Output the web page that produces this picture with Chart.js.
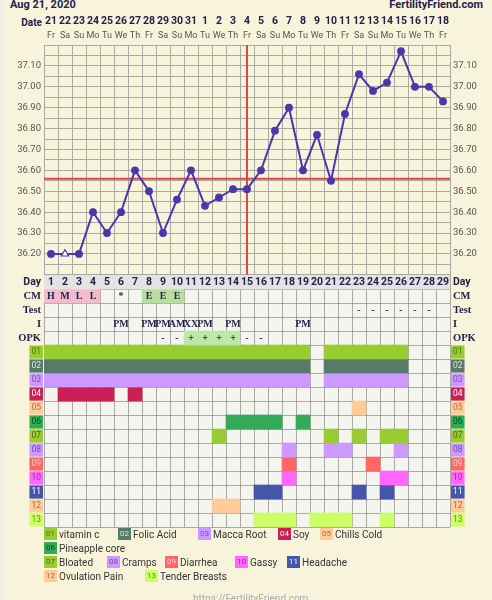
<!DOCTYPE html>
<html><head><meta charset="utf-8">
<script src="https://cdn.jsdelivr.net/npm/chart.js@4.4.1/dist/chart.umd.min.js"></script>
<style>
html,body{margin:0;padding:0;background:#f8f4dc;width:492px;height:600px;overflow:hidden;font-family:Roboto,"Noto Sans",sans-serif;}
#wrap{position:relative;width:492px;height:600px;}
#strip{position:absolute;left:0;top:0;width:5px;height:600px;background:#efefe8;}
.abs{position:absolute;white-space:nowrap;}
#c1{position:absolute;left:0;top:0;}
#c2{position:absolute;left:0;top:274px;}
.lgi{position:absolute;height:14px;display:flex;align-items:center;white-space:nowrap;font-size:10px;color:#333;}
.lgb{display:inline-block;width:13px;height:12px;font-size:8px;line-height:12px;text-align:center;margin-right:2px;}
</style></head>
<body><div id="wrap">
<div id="strip"></div>
<div class="abs" style="left:10px;top:-2px;font-weight:bold;font-size:11px;color:#23234a;">Aug 21, 2020</div>
<div class="abs" style="right:9px;top:-2px;font-weight:bold;font-size:11px;color:#23234a;">FertilityFriend.com</div>
<div class="abs" style="right:450px;top:17px;font-weight:bold;font-size:10px;color:#23234a;">Date</div>
<canvas id="c1" width="492" height="280"></canvas>
<canvas id="c2" width="492" height="255"></canvas>
<div id="legend"></div>
<div class="abs" style="left:193px;top:593px;font-size:10px;color:#aaa;">https://FertilityFriend.com</div>
</div>
<script>
// ---------- DATA ----------
const cycleDays = [1,2,3,4,5,6,7,8,9,10,11,12,13,14,15,16,17,18,19,20,21,22,23,24,25,26,27,28,29];
const dates = ['21','22','23','24','25','26','27','28','29','30','31','1','2','3','4','5','6','7','8','9','10','11','12','13','14','15','16','17','18'];
const weekdays = ['Fr','Sa','Su','Mo','Tu','We','Th','Fr','Sa','Su','Mo','Tu','We','Th','Fr','Sa','Su','Mo','Tu','We','Th','Fr','Sa','Su','Mo','Tu','We','Th','Fr'];
const temps = [36.20,36.20,36.20,36.40,36.30,36.40,36.60,36.50,36.30,36.46,36.60,36.43,36.47,36.51,36.51,36.60,36.79,36.90,36.60,36.77,36.55,36.87,37.06,36.98,37.02,37.17,37.00,37.00,36.93];
const openPointDays = [2];
const coverline = 36.56;
const ovulationDay = 15;
const tempMin = 36.10, tempMax = 37.20;
const tempGridValues = [36.10,36.15,36.20,36.25,36.30,36.35,36.40,36.45,36.50,36.55,36.60,36.65,36.70,36.75,36.80,36.85,36.90,36.95,37.00,37.05,37.10,37.15,37.20];
const tempTickLabels = ['36.20','36.30','36.40','36.50','36.60','36.70','36.80','36.90','37.00','37.10'];

const rowLabels = ['Day','CM','Test','I','OPK','01','02','03','04','05','06','07','08','09','10','11','12','13'];
const cmMarks   = ['H','M','L','L','','*','','E','E','E','','','','','','','','','','','','','','','','','','',''];
const testMarks = ['','','','','','','','','','','','','','','','','','','','','','','-','-','-','-','-','-',''];
const iMarks    = ['','','','','','PM','','PM','PM','AM','XX','PM','','PM','','','','','PM','','','','','','','','','',''];
const opkMarks  = ['','','','','','','','','-','-','+','+','+','+','-','-','','','','','','','','','','','','',''];

const symptomCodes = ['01','02','03','04','05','06','07','08','09','10','11','12','13'];
const symptomNames = ['vitamin c','Folic Acid','Macca Root','Soy','Chills Cold','Pineapple core','Bloated','Cramps','Diarrhea','Gassy','Headache','Ovulation Pain','Tender Breasts'];
const vitaminCDays      = [1,2,3,4,5,6,7,8,9,10,11,12,13,14,15,16,17,18,19,21,22,23,24,25,26];
const folicAcidDays     = [1,2,3,4,5,6,7,8,9,10,11,12,13,14,15,16,17,18,19,21,22,23,24,25,26];
const maccaRootDays     = [1,2,3,4,5,6,7,8,9,10,11,12,13,14,15,16,17,18,19,21,22,23,24,25,26];
const soyDays           = [2,3,4,5,7];
const chillsColdDays    = [23];
const pineappleCoreDays = [14,15,16,17,19];
const bloatedDays       = [13,21,23,25,26];
const crampsDays        = [18,21,22,26];
const diarrheaDays      = [18,24];
const gassyDays         = [18,25,26];
const headacheDays      = [16,17,23,25];
const ovulationPainDays = [13,14];
const tenderBreastsDays = [16,17,18,20,21,22,25];
const symptomDays = [vitaminCDays,folicAcidDays,maccaRootDays,soyDays,chillsColdDays,pineappleCoreDays,bloatedDays,crampsDays,diarrheaDays,gassyDays,headacheDays,ovulationPainDays,tenderBreastsDays];

// ---------- STYLE ----------
const NAVY = '#23234a';
const GRID = '#aaa9a2';
const LINE = '#4838aa';
const RED = '#dc4848';
const symptomColors = ['#99cc33','#587a68','#cc99ff','#cc1f55','#ffcc99','#33aa55','#99cc33','#cc99ff','#ff6666','#ff66ff','#4455aa','#ffcc99','#ccff66'];
const symptomTextColors = ['#4a7410','#dde6df','#8450bb','#ffffff','#a87040','#0e4a20','#4a6a10','#7848b0','#ffd6d6','#9a2a9a','#ffffff','#a86c3c','#5a9420'];
const cmCellColors = {H:'#f4bccb',M:'#f4bccb',L:'#f4bccb',E:'#b6df9e'};
const opkCellColors = {'+':'#bde8a9'};
const legendLayout = [[44,534],[118,534],[198,534],[278,534],[320,534],[44,548],[44,562],[107,562],[165,562],[235,562],[287,562],[44,576],[145,576]];
const gridDays = [0.5,1.5,2.5,3.5,4.5,5.5,6.5,7.5,8.5,9.5,10.5,11.5,12.5,13.5,14.5,15.5,16.5,17.5,18.5,19.5,20.5,21.5,22.5,23.5,24.5,25.5,26.5,27.5,28.5,29.5];

// ---------- TEMPERATURE CHART ----------
const fixW = w => s => { s.width = w; s.paddingTop = 0; s.paddingBottom = 0; };
const fixH = h => s => { s.height = h; s.paddingLeft = 0; s.paddingRight = 0; };
const tempLabel = v => { const t = Number(v).toFixed(2); return tempTickLabels.includes(t) ? t : ''; };

new Chart(document.getElementById('c1'), {
  type: 'line',
  data: {
    datasets: [
      {
        data: cycleDays.map((d,i)=>({x:d, y:temps[i]})),
        borderColor: LINE, borderWidth: 2, tension: 0,
        pointStyle: cycleDays.map(d => openPointDays.includes(d) ? 'triangle' : 'circle'),
        pointRadius: cycleDays.map(d => openPointDays.includes(d) ? 4.2 : 3.3),
        pointBackgroundColor: cycleDays.map(d => openPointDays.includes(d) ? '#ffffff' : LINE),
        pointBorderColor: LINE, pointBorderWidth: 1.2,
        xAxisID: 'x', yAxisID: 'y', order: 0
      },
      {
        data: [{x:gridDays[0], y:coverline},{x:gridDays[gridDays.length-1], y:coverline}],
        borderColor: RED, borderWidth: 2, pointRadius: 0, xAxisID:'x', yAxisID:'y', order: 1
      },
      {
        data: [{x:ovulationDay, y:tempMin},{x:ovulationDay, y:tempMax}],
        borderColor: RED, borderWidth: 2, pointRadius: 0, xAxisID:'x', yAxisID:'y', order: 1
      }
    ]
  },
  options: {
    responsive: false, animation: false, devicePixelRatio: 1, events: [],
    layout: { padding: { top: 13, bottom: 1, left: 0, right: 0 } },
    plugins: { legend: { display: false }, tooltip: { enabled: false } },
    scales: {
      x: { type:'linear', min:0.5, max:29.5, position:'bottom',
        afterBuildTicks: s => { s.ticks = gridDays.map(v=>({value:v})); },
        ticks: { display:false, autoSkip:false }, grid: { color: GRID, drawTicks:false }, border: { display:false },
        afterFit: fixH(0) },
      xDate: { type:'linear', min:0.5, max:29.5, position:'top', weight: 1,
        afterBuildTicks: s => { s.ticks = cycleDays.map(v=>({value:v})); },
        ticks: { callback:(v,i)=>dates[i], autoSkip:false, maxRotation:0, minRotation:0, padding:0,
                 font:{family:'Roboto', weight:'bold', size:10.5}, color: NAVY },
        grid: { display:false, drawTicks:false }, border: { display:false }, afterFit: fixH(15) },
      xDow: { type:'linear', min:0.5, max:29.5, position:'top', weight: 0,
        afterBuildTicks: s => { s.ticks = cycleDays.map(v=>({value:v})); },
        ticks: { callback:(v,i)=>weekdays[i], autoSkip:false, maxRotation:0, minRotation:0, padding:4,
                 font:{family:'Roboto', size:9}, color:'#555' },
        grid: { display:false, drawTicks:false }, border: { display:false }, afterFit: fixH(17) },
      y: { type:'linear', min:tempMin, max:tempMax, position:'left',
        afterBuildTicks: s => { s.ticks = tempGridValues.map(v=>({value:v})); },
        ticks: { callback: tempLabel, autoSkip:false, padding:3, font:{family:'Roboto', size:9.5}, color:'#555' },
        grid: { color: GRID, drawTicks:false }, border: { display:false }, afterFit: fixW(44) },
      yR: { type:'linear', min:tempMin, max:tempMax, position:'right',
        afterBuildTicks: s => { s.ticks = tempGridValues.map(v=>({value:v})); },
        ticks: { callback: tempLabel, autoSkip:false, padding:3, font:{family:'Roboto', size:9.5}, color:'#555' },
        grid: { display:false, drawTicks:false }, border: { display:false }, afterFit: fixW(42) }
    }
  }
});

// ---------- TABLE CHART ----------
const cells = (row, days) => days.map(d => ({ y: row, x: [d-0.5, d+0.5] }));
const markDays = (marks, pred) => cycleDays.filter((d,i) => pred(marks[i]));

const tableDatasets = [
  { data: cells('Day', cycleDays), backgroundColor: '#e3e3e3' },
  ...Object.keys(cmCellColors).map(m => ({ data: cells('CM', markDays(cmMarks, v => v === m)), backgroundColor: cmCellColors[m] })),
  ...Object.keys(opkCellColors).map(m => ({ data: cells('OPK', markDays(opkMarks, v => v === m)), backgroundColor: opkCellColors[m] })),
  ...symptomCodes.map((c,i) => ({ data: cells(c, symptomDays[i]), backgroundColor: symptomColors[i] }))
];

const tickFont = c => c.index === 0 ? {family:'Roboto', weight:'bold', size:10.5}
  : c.index < 5 ? {family:'Liberation Serif', weight:'bold', size:10.5}
  : {family:'Roboto', size:8.5};
const tickColor = c => c.index < 5 ? NAVY : symptomTextColors[c.index-5];
const tickBack = c => c.index < 5 ? 'rgba(0,0,0,0)' : symptomColors[c.index-5];

const tableText = {
  id: 'tableText',
  beforeDraw(chart) {
    const {ctx, chartArea:a} = chart;
    ctx.save(); ctx.fillStyle = '#f5f5ef'; ctx.fillRect(a.left, a.top, a.right-a.left, a.bottom-a.top); ctx.restore();
  },
  afterDraw(chart) {
    const {ctx, scales:{x, y}} = chart;
    ctx.save();
    ctx.textAlign = 'center'; ctx.textBaseline = 'middle'; ctx.fillStyle = NAVY;
    ctx.font = 'bold 10.5px Roboto';
    cycleDays.forEach(d => ctx.fillText(String(d), x.getPixelForValue(d), y.getPixelForValue(0) + 0.5));
    ctx.font = 'bold 10px "Liberation Serif"';
    [[1, cmMarks], [2, testMarks], [3, iMarks], [4, opkMarks]].forEach(([row, marks]) => {
      cycleDays.forEach((d,i) => { if (marks[i]) ctx.fillText(marks[i], x.getPixelForValue(d), y.getPixelForValue(row) + 0.5); });
    });
    ctx.restore();
  }
};

new Chart(document.getElementById('c2'), {
  type: 'bar',
  data: { labels: rowLabels, datasets: tableDatasets },
  options: {
    indexAxis: 'y',
    responsive: false, animation: false, devicePixelRatio: 1, events: [],
    layout: { padding: { top: 1, bottom: 2, left: 0, right: 0 } },
    datasets: { bar: { barPercentage: 1, categoryPercentage: 1, grouped: false, borderWidth: 0 } },
    plugins: { legend: { display: false }, tooltip: { enabled: false } },
    scales: {
      x: { type:'linear', min:0.5, max:29.5, position:'bottom', z: 1,
        afterBuildTicks: s => { s.ticks = gridDays.map(v=>({value:v})); },
        ticks: { display:false, autoSkip:false }, grid: { color: 'rgba(120,120,115,0.6)', drawTicks:false }, border: { display:false },
        afterFit: fixH(0) },
      y: { type:'category', position:'left', z: 1, offset: true,
        grid: { offset: true, color: 'rgba(120,120,115,0.6)', drawTicks:false }, border: { display:false },
        ticks: { autoSkip:false, padding:3, font: tickFont, color: tickColor,
                 showLabelBackdrop: c => c.index >= 5, backdropColor: tickBack,
                 backdropPadding: {top:1.5, bottom:1.5, left:2, right:2} },
        afterFit: fixW(44) },
      yR: { type:'category', position:'right', z: 1, offset: true,
        grid: { display:false, drawTicks:false }, border: { display:false },
        ticks: { autoSkip:false, padding:3, font: tickFont, color: tickColor,
                 showLabelBackdrop: c => c.index >= 5, backdropColor: tickBack,
                 backdropPadding: {top:1.5, bottom:1.5, left:2, right:2} },
        afterFit: fixW(42) }
    }
  },
  plugins: [tableText]
});

// ---------- LEGEND ----------
const lg = document.getElementById('legend');
symptomCodes.forEach((c,i) => {
  const [left, cy] = legendLayout[i];
  const it = document.createElement('div');
  it.className = 'lgi';
  it.style.left = left + 'px'; it.style.top = (cy - 7) + 'px';
  const b = document.createElement('span');
  b.className = 'lgb'; b.textContent = c;
  b.style.background = symptomColors[i]; b.style.color = symptomTextColors[i];
  const t = document.createElement('span'); t.textContent = symptomNames[i];
  it.appendChild(b); it.appendChild(t); lg.appendChild(it);
});
</script>
</body></html>
